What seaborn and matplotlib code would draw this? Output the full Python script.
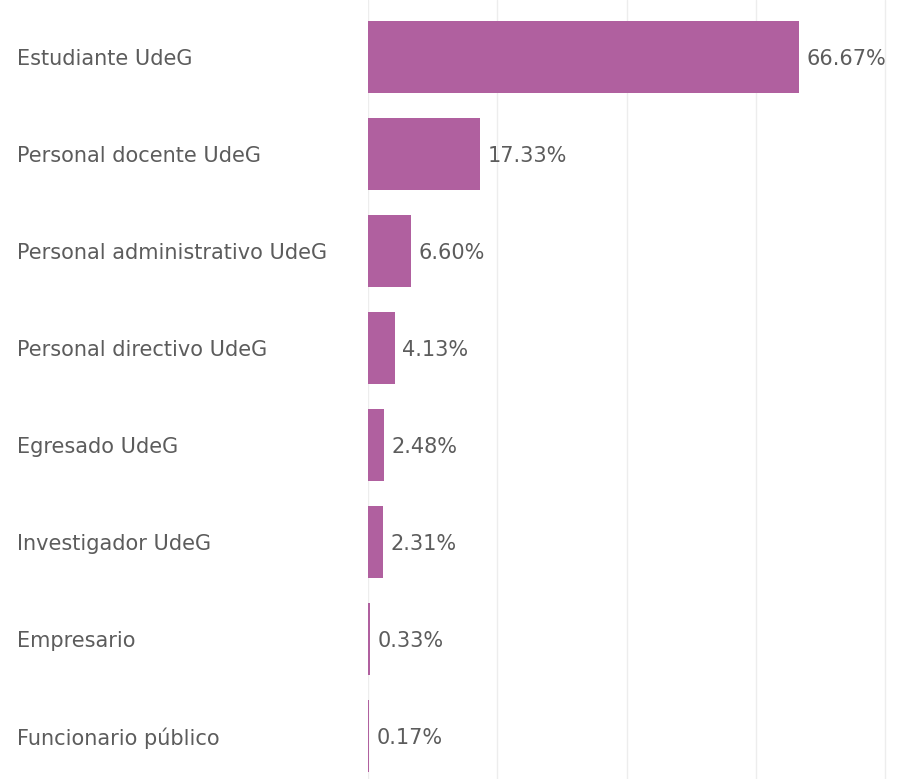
import seaborn as sns
import matplotlib.pyplot as plt
import pandas as pd

categorias = ['Estudiante UdeG', 'Personal docente UdeG', 'Personal administrativo UdeG',
              'Personal directivo UdeG', 'Egresado UdeG', 'Investigador UdeG',
              'Empresario', 'Funcionario público']
porcentajes = [66.67, 17.33, 6.60, 4.13, 2.48, 2.31, 0.33, 0.17]
ticks_x = [0, 20, 40, 60, 80]

df = pd.DataFrame({'tipo': categorias, 'pct': porcentajes})

sns.set_style('white')
plt.rcParams['font.family'] = ['DejaVu Sans']

fig = plt.figure(figsize=(9.15, 7.79), dpi=100)
ax = fig.add_axes([368 / 915, 0, (895 - 368) / 915, 1])

sns.barplot(data=df, y='tipo', x='pct', color='#b0609f', width=0.74,
            saturation=1, linewidth=0, ax=ax)

ax.set_xlim(0, 81.5)
ax.set_ylim(7.443, -0.588)
ax.set_xticks(ticks_x)
ax.xaxis.grid(True, color='#ededed', linewidth=1)
ax.set_axisbelow(True)
ax.tick_params(axis='x', labelbottom=False, length=0)
ax.tick_params(axis='y', length=0, pad=252.7, labelsize=15, labelcolor='#5c5c5c')
for lbl in ax.get_yticklabels():
    lbl.set_horizontalalignment('left')
sns.despine(ax=ax, left=True, bottom=True)
ax.set_xlabel('')
ax.set_ylabel('')

txts = ax.bar_label(ax.containers[0], labels=[f'{v:.2f}%' for v in porcentajes],
                    padding=5.5, fontsize=15, color='#5c5c5c')
for t in txts:
    t.set_verticalalignment('center_baseline')

plt.savefig('out.png', dpi=100)
